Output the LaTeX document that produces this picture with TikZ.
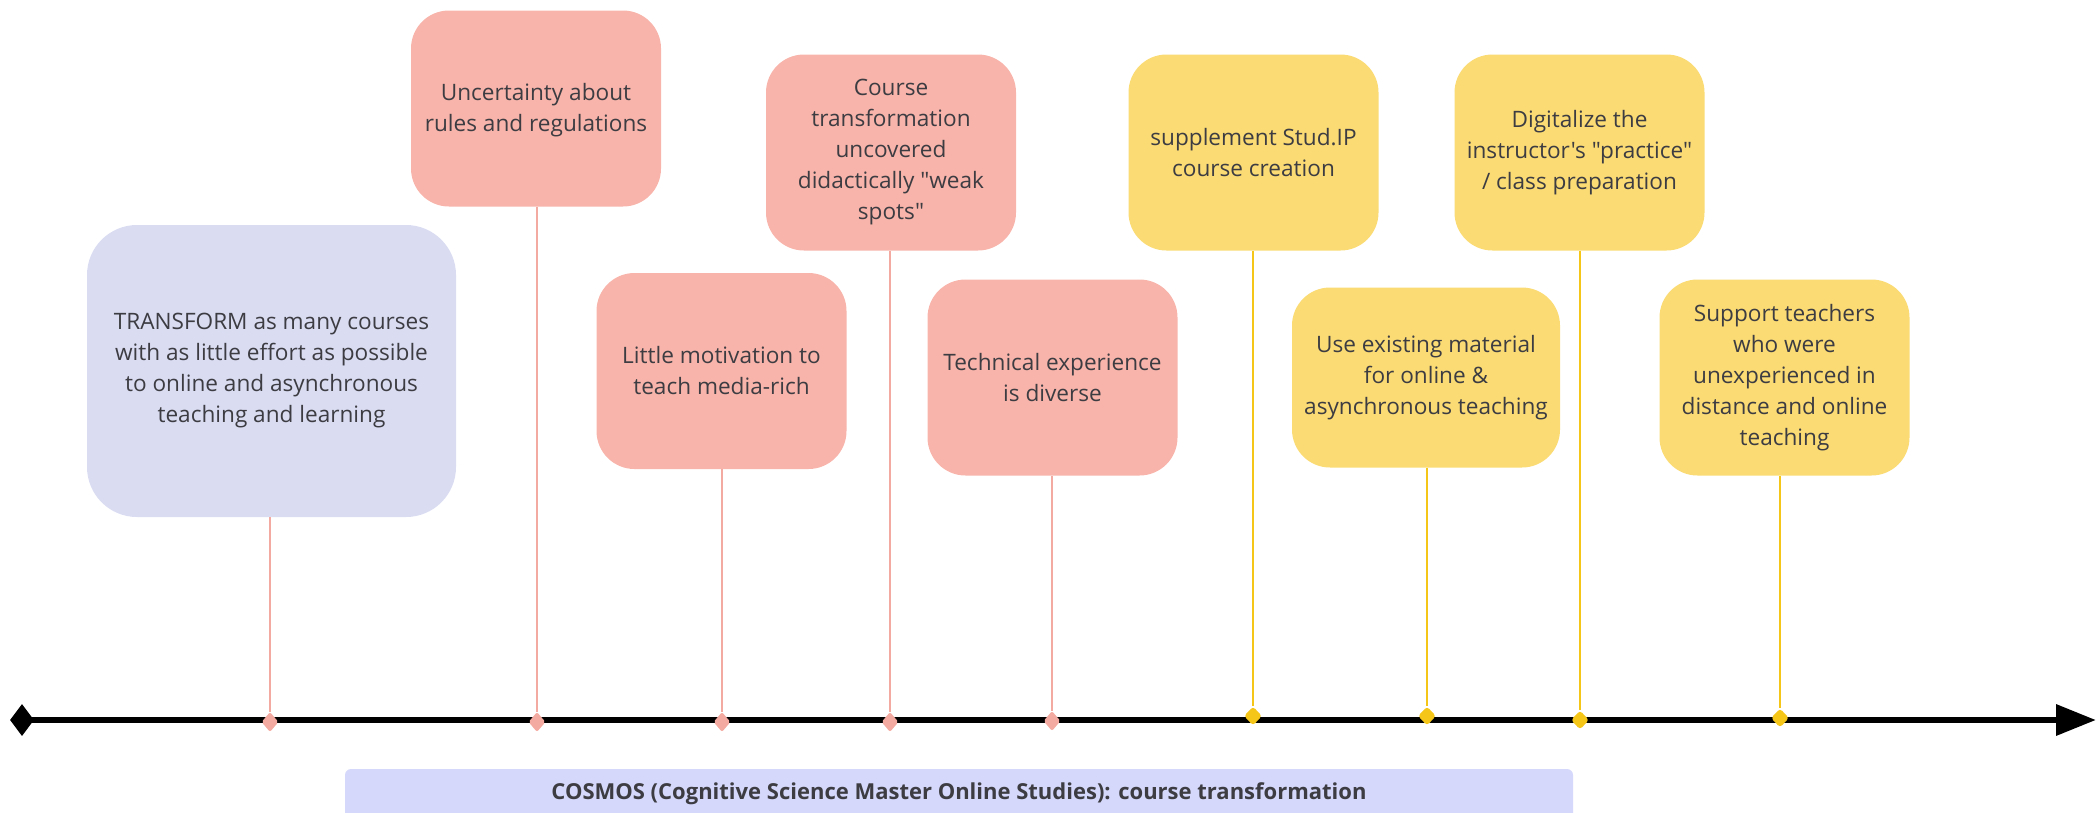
\documentclass[tikz,border=0pt]{standalone}
\usepackage{fontspec}
\setmainfont{Open Sans}[Ligatures=TeXOff]
\usetikzlibrary{arrows.meta,shapes.geometric}
\definecolor{pinkbox}{RGB}{248,180,170}
\definecolor{lavbox}{RGB}{218,220,242}
\definecolor{yelbox}{RGB}{250,219,116}
\definecolor{labbox}{RGB}{213,216,250}
\definecolor{pinkstem}{RGB}{243,170,160}
\definecolor{yelstem}{RGB}{245,197,24}
\definecolor{txt}{RGB}{60,60,66}
\tikzset{
  card/.style={rounded corners=38pt, inner sep=0pt, text=txt, align=center,
    font=\fontsize{22.6}{31}\selectfont},
  pinkcard/.style={card, fill=pinkbox, minimum width=250pt, minimum height=196pt},
  yelcard/.style={card, fill=yelbox, minimum width=250pt, minimum height=196pt},
  pinkstemline/.style={draw=pinkstem, line width=1.6pt},
  yelstemline/.style={draw=yelstem, line width=1.6pt},
  pinkdot/.style={diamond, fill=pinkstem, inner sep=0pt, minimum width=17pt, minimum height=20pt, rounded corners=2pt},
  yeldot/.style={diamond, fill=yelstem, inner sep=0pt, minimum width=18pt, minimum height=19pt, rounded corners=3pt},
}
\begin{document}
\begin{tikzpicture}[x=1pt,y=-1pt]
\useasboundingbox (0,0) rectangle (2099,812);
% timeline
\node[diamond, fill=black, inner sep=0pt, minimum width=24pt, minimum height=32pt] (start) at (22,720) {};
\coordinate (end) at (2096,720);
\draw[line width=6.5pt, -{Triangle[length=40pt,width=30pt]}] (start.center) -- (end);

% box 1 lavender
\node[card, fill=lavbox, rounded corners=50pt, minimum width=369pt, minimum height=292pt] (b1) at (271.5,371) {TRANSFORM as many courses\\with as little effort as possible\\to online and asynchronous\\teaching and learning};
\node[pinkdot] (d1) at (270,722) {};
\draw[pinkstemline] (b1.south -| d1) -- (d1);

% box 2
\node[pinkcard] (b2) at (536,108.5) {};
\node[text=txt, align=center, font=\fontsize{22.6}{31}\selectfont] (t2) at (536,110) {Uncertainty about\\rules and regulations};
\node[pinkdot] (d2) at (537,722) {};
\draw[pinkstemline] (b2.south -| d2) -- (d2);

% box 3
\node[pinkcard] (b3) at (721.5,371) {Little motivation to\\teach media-rich};
\node[pinkdot] (d3) at (722,722) {};
\draw[pinkstemline] (b3.south -| d3) -- (d3);

% box 4
\node[pinkcard] (b4) at (891,152.5) {Course\\transformation\\uncovered\\didactically "weak\\spots"};
\node[pinkdot] (d4) at (890,722) {};
\draw[pinkstemline] (b4.south -| d4) -- (d4);

% box 5
\node[pinkcard] (b5) at (1052.5,377.5) {Technical experience\\is diverse};
\node[pinkdot] (d5) at (1052,721) {};
\draw[pinkstemline] (b5.south -| d5) -- (d5);

% box 6 yellow
\node[yelcard] (b6) at (1253.5,152.5) {supplement Stud.IP\\course creation};
\node[yeldot] (d6) at (1253,716) {};
\draw[yelstemline] (b6.south -| d6) -- (d6);

% box 7
\node[yelcard, minimum width=268pt, minimum height=180pt] (b7) at (1426,377.5) {Use existing material\\for online \&\\asynchronous teaching};
\node[yeldot] (d7) at (1427,716) {};
\draw[yelstemline] (b7.south -| d7) -- (d7);

% box 8
\node[yelcard] (b8) at (1579.5,152.5) {Digitalize the\\instructor's "practice"\\/ class preparation};
\node[yeldot] (d8) at (1580,720) {};
\draw[yelstemline] (b8.south -| d8) -- (d8);

% box 9
\node[yelcard] (b9) at (1784.5,377.5) {Support teachers\\who were\\unexperienced in\\distance and online\\teaching};
\node[yeldot] (d9) at (1780,718) {};
\draw[yelstemline] (b9.south -| d9) -- (d9);

% bottom label
\node[fill=labbox, rounded corners=6pt, minimum width=1228pt, minimum height=50pt, text=txt, font=\fontsize{22}{26}\selectfont\bfseries] (lab) at (959,794) {COSMOS (Cognitive Science Master Online Studies): course transformation};
\end{tikzpicture}
\end{document}
